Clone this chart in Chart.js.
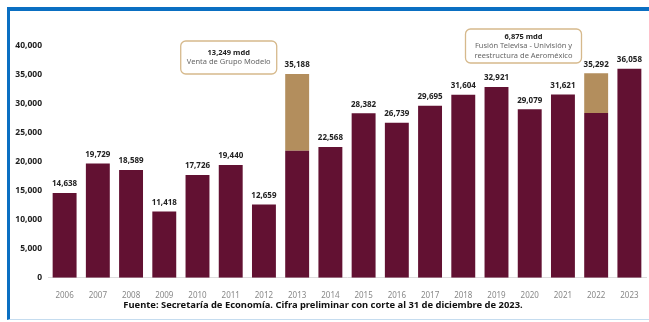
<!DOCTYPE html>
<html>
<head>
<meta charset="utf-8">
<script src="https://cdn.jsdelivr.net/npm/chart.js@4.4.1/dist/chart.umd.min.js"></script>
<style>
  html, body { margin: 0; padding: 0; background: #fff; }
  .frame {
    position: absolute; left: 7px; top: 7px; width: 642px; height: 313px;
    border-top: 4px solid #0a6fc2; border-left: 3px solid #0a6fc2;
    border-bottom: 1px solid #c5dcef; box-sizing: border-box;
  }
  #wrap { position: absolute; left: 0; top: 0; width: 649px; height: 322px; }
</style>
</head>
<body>
<div class="frame"></div>
<div id="wrap"><canvas id="ied"></canvas></div>
<script>
const years = ['2006','2007','2008','2009','2010','2011','2012','2013','2014','2015','2016','2017','2018','2019','2020','2021','2022','2023'];
// total per year (millions of dollars)
const totals = [14638, 19729, 18589, 11418, 17726, 19440, 12659, 35188, 22568, 28382, 26739, 29695, 31604, 32921, 29079, 31621, 35292, 36058];
// one-off operations stacked on top
const extraordinary = [0, 0, 0, 0, 0, 0, 0, 13249, 0, 0, 0, 0, 0, 0, 0, 0, 6875, 0];
const yTicks = [0, 5000, 10000, 15000, 20000, 25000, 30000, 35000, 40000];
const notes = [
  { index: 5, shift: -2, top: 41, w: 96, h: 33, lines: ['13,249 mdd', 'Venta de Grupo Modelo'] },
  { index: 13, shift: 27, top: 29, w: 116, h: 34, lines: ['6,875 mdd', 'Fusión Televisa - Univisión y', 'reestructura de Aeroméxico'] }
];
const footer = 'Fuente: Secretaría de Economía. Cifra preliminar con corte al 31 de diciembre de 2023.';

const base = totals.map((t, i) => t - extraordinary[i]);
const fmt = v => v.toLocaleString('en-US');
const FONT = "'Noto Sans', sans-serif";

const labelsPlugin = {
  id: 'labels',
  afterDatasetsDraw(chart) {
    const ctx = chart.ctx;
    const x = chart.scales.x, y = chart.scales.y;
    ctx.save();
    ctx.font = "bold 8px " + FONT;
    ctx.fillStyle = '#222';
    ctx.textAlign = 'center';
    ctx.textBaseline = 'middle';
    totals.forEach((t, i) => {
      ctx.fillText(fmt(t), x.getPixelForValue(i), y.getPixelForValue(t) - 9);
    });
    // note boxes
    notes.forEach(n => {
      const cx = x.getPixelForValue(n.index) + n.shift;
      ctx.beginPath();
      ctx.roundRect(cx - n.w / 2, n.top, n.w, n.h, 5);
      ctx.fillStyle = '#fff';
      ctx.fill();
      ctx.lineWidth = 1.3;
      ctx.strokeStyle = '#d6b98c';
      ctx.stroke();
      const step = 9.5;
      const y0 = n.top + (n.h - step * (n.lines.length - 1)) / 2;
      n.lines.forEach((s, k) => {
        ctx.font = (k === 0 ? "bold 7.5px " : "7.5px ") + FONT;
        ctx.fillStyle = k === 0 ? '#222' : '#666';
        ctx.fillText(s, cx, y0 + k * step);
      });
    });
    ctx.restore();
  }
};

new Chart(document.getElementById('ied'), {
  type: 'bar',
  data: {
    labels: years,
    datasets: [
      { data: base, backgroundColor: '#621132', categoryPercentage: 0.72, barPercentage: 1 },
      { data: extraordinary, backgroundColor: '#b38e5d', categoryPercentage: 0.72, barPercentage: 1 }
    ]
  },
  options: {
    responsive: true,
    maintainAspectRatio: false,
    animation: false,
    layout: { padding: { top: 46, right: 3, bottom: 11, left: 0 } },
    plugins: {
      legend: { display: false },
      tooltip: { enabled: false },
      title: {
        display: true,
        position: 'bottom',
        text: footer,
        color: '#111',
        font: { family: FONT, size: 9.4, weight: 'bold' },
        padding: { top: 0, bottom: 0 }
      }
    },
    scales: {
      x: {
        stacked: true,
        grid: { display: false },
        border: { color: '#ddd', width: 1 },
        ticks: { color: '#888', font: { family: FONT, size: 8 }, padding: 5, maxRotation: 0 },
        afterFit(s) { s.height = 22; }
      },
      y: {
        stacked: true,
        min: 0,
        max: 40000,
        grid: { display: false, drawTicks: false },
        border: { display: false },
        afterBuildTicks(s) { s.ticks = yTicks.map(v => ({ value: v })); },
        ticks: { color: '#222', font: { family: FONT, size: 8.5, weight: 'bold' }, padding: 6, callback: v => fmt(v) },
        afterFit(s) { s.width = 48; }
      }
    }
  },
  plugins: [labelsPlugin]
});
</script>
</body>
</html>
